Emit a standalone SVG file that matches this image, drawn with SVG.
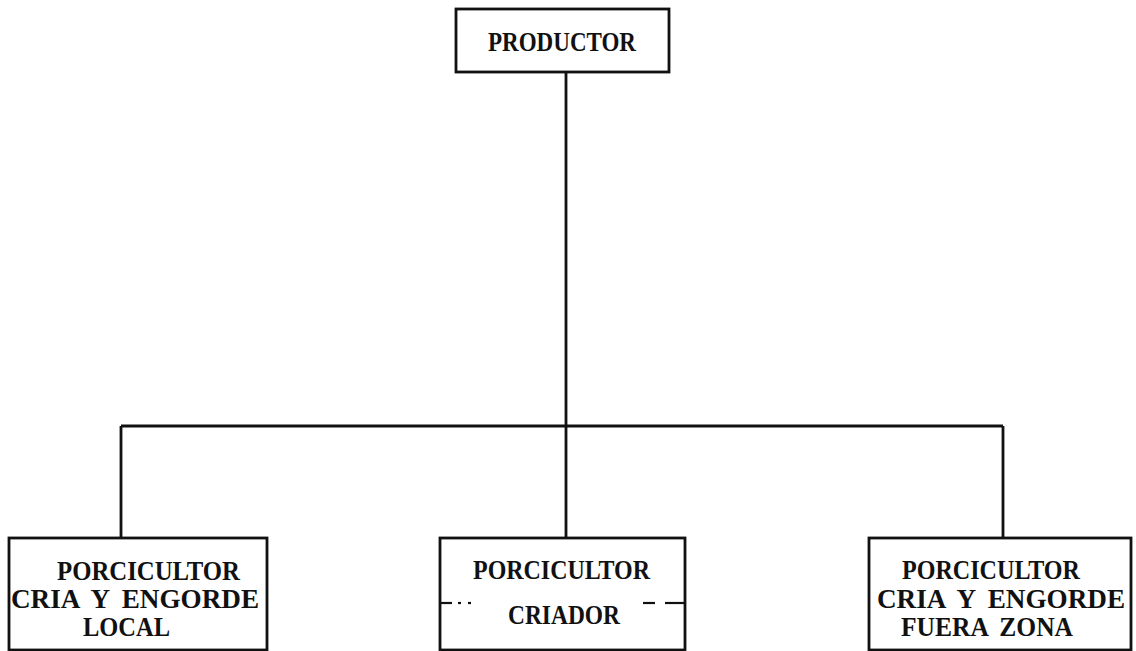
<svg xmlns="http://www.w3.org/2000/svg" width="1136" height="651" viewBox="0 0 1136 651">
  <style>
    .box { fill: #ffffff; stroke: #111111; stroke-width: 2.8; }
    .wire { fill: none; stroke: #111111; stroke-width: 2.8; }
    .lbl { font-family: "Liberation Serif", "DejaVu Serif", serif; font-size: 28px; font-weight: bold; fill: #111111; word-spacing: 6px; }
    .dash { stroke: #111111; stroke-width: 2.2; }
  </style>
  <rect width="1136" height="651" fill="#ffffff"/>

  <g id="connectors">
    <path class="wire" d="M566 72 V538"/>
    <path class="wire" d="M121 426 H1003"/>
    <path class="wire" d="M121 426 V538"/>
    <path class="wire" d="M1003 426 V538"/>
  </g>

  <g id="productor">
    <rect class="box" x="456" y="9" width="213" height="63"/>
    <text class="lbl" x="488" y="51" textLength="148" lengthAdjust="spacingAndGlyphs">PRODUCTOR</text>
  </g>

  <g id="porcicultor-local">
    <rect class="box" x="9" y="538" width="258" height="112"/>
    <text class="lbl" x="57" y="580" textLength="183" lengthAdjust="spacingAndGlyphs">PORCICULTOR</text>
    <text class="lbl" x="11" y="608" textLength="248" lengthAdjust="spacingAndGlyphs">CRIA Y ENGORDE</text>
    <text class="lbl" x="83" y="636" textLength="87" lengthAdjust="spacingAndGlyphs">LOCAL</text>
  </g>

  <g id="porcicultor-criador">
    <rect class="box" x="440" y="538" width="245" height="112"/>
    <text class="lbl" x="473" y="579" textLength="177" lengthAdjust="spacingAndGlyphs">PORCICULTOR</text>
    <line class="dash" x1="441" y1="603" x2="452" y2="603"/>
    <line class="dash" x1="458" y1="603" x2="461" y2="603"/>
    <line class="dash" x1="468" y1="603" x2="471" y2="603"/>
    <line class="dash" x1="643" y1="603" x2="655" y2="603"/>
    <line class="dash" x1="665" y1="603" x2="684" y2="603"/>
    <text class="lbl" x="508" y="624" textLength="112" lengthAdjust="spacingAndGlyphs">CRIADOR</text>
  </g>

  <g id="porcicultor-fuera-zona">
    <rect class="box" x="869" y="538" width="262" height="112"/>
    <text class="lbl" x="902" y="579" textLength="178" lengthAdjust="spacingAndGlyphs">PORCICULTOR</text>
    <text class="lbl" x="877" y="608" textLength="248" lengthAdjust="spacingAndGlyphs">CRIA Y ENGORDE</text>
    <text class="lbl" x="901" y="636" textLength="172" lengthAdjust="spacingAndGlyphs">FUERA ZONA</text>
  </g>
</svg>
